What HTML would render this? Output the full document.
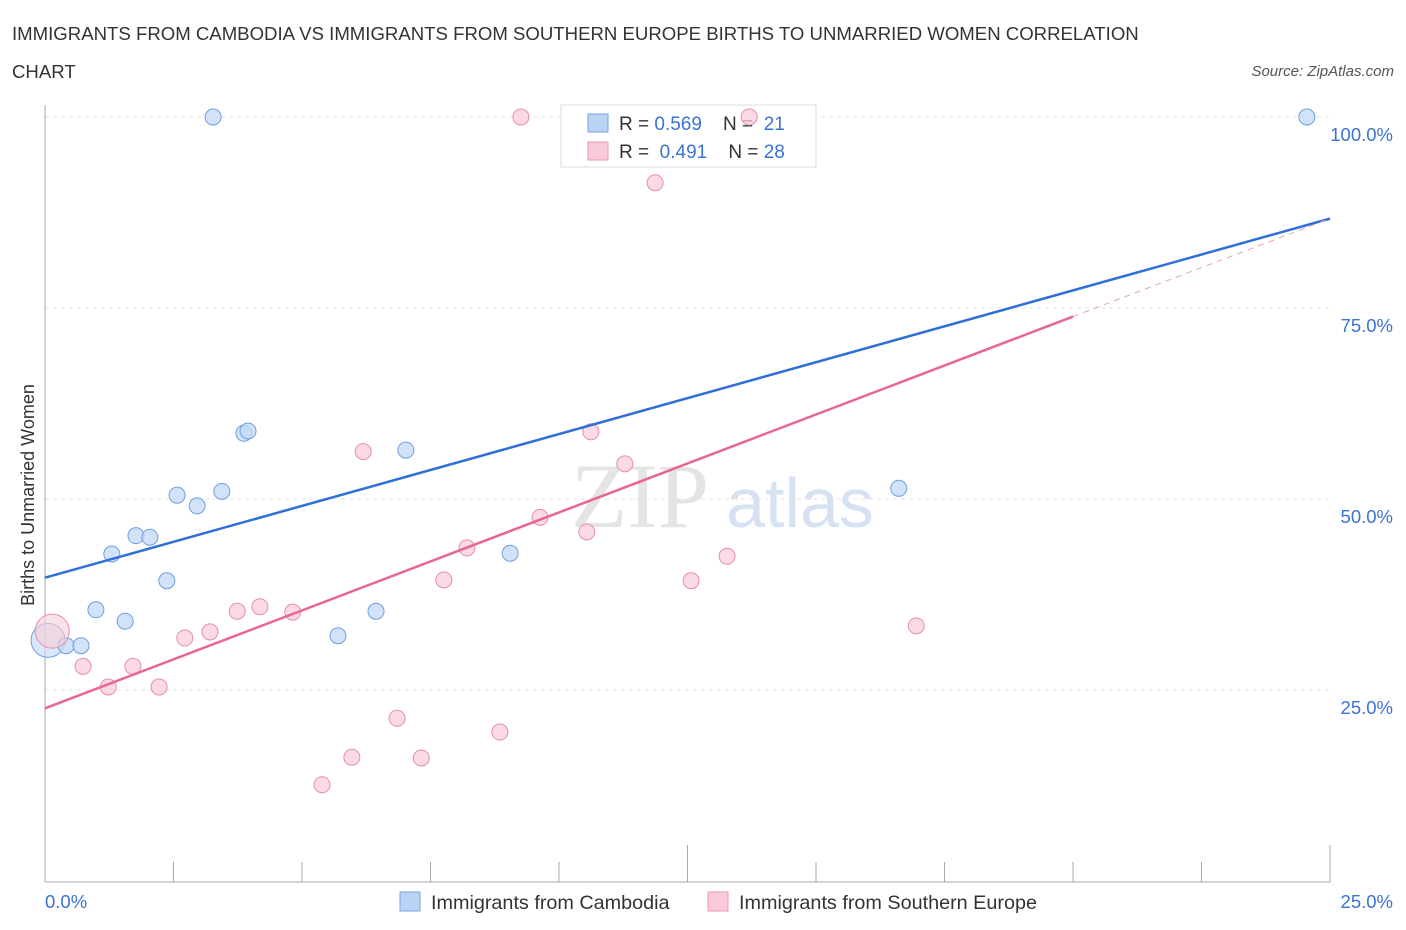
<!DOCTYPE html>
<html><head><meta charset="utf-8"><style>
body{margin:0;background:#fff;font-family:"Liberation Sans",sans-serif;}
#c{position:absolute;left:0;top:0}
text{white-space:pre}
</style></head><body>
<svg id="c" width="1406" height="930" xmlns="http://www.w3.org/2000/svg">
<text x="12" y="40" font-size="18.6" fill="#333">IMMIGRANTS FROM CAMBODIA VS IMMIGRANTS FROM SOUTHERN EUROPE BIRTHS TO UNMARRIED WOMEN CORRELATION</text>
<text x="12" y="78" font-size="18.6" fill="#333">CHART</text>
<text x="1394" y="76" font-size="15" fill="#555" font-style="italic" text-anchor="end">Source: ZipAtlas.com</text>
<text x="640" y="527" font-size="92" fill="#e4e4e4" font-family="Liberation Serif,serif" text-anchor="middle">ZIP</text>
<text x="800" y="527" font-size="70" fill="#d6e2f2" text-anchor="middle">atlas</text>
<text transform="translate(34,495) rotate(-90)" font-size="18" fill="#333" text-anchor="middle">Births to Unmarried Women</text>
<g id="grid"></g>
<g>
<rect x="561" y="105" width="255" height="62" fill="#fff" stroke="#ddd"/>
<rect x="588" y="114" width="20" height="18" fill="#b9d3f5" stroke="#7aa6e0"/>
<text x="619" y="130" font-size="19" fill="#333">R = <tspan fill="#3b72d4">0.569</tspan>    N =  <tspan fill="#3b72d4">21</tspan></text>
<rect x="588" y="142" width="20" height="18" fill="#f8c9d6" stroke="#e99ab2"/>
<text x="619" y="158" font-size="19" fill="#333">R =  <tspan fill="#3b72d4">0.491</tspan>    N = <tspan fill="#3b72d4">28</tspan></text>
</g>
<g id="marks"></g>
<g>
<rect x="400" y="892" width="20" height="19" fill="#b9d3f5" stroke="#7aa6e0"/>
<text x="431" y="909" font-size="19.8" fill="#333">Immigrants from Cambodia</text>
<rect x="708" y="892" width="20" height="19" fill="#f8c9d6" stroke="#e99ab2"/>
<text x="739" y="909" font-size="19.8" fill="#333">Immigrants from Southern Europe</text>
</g>
<text x="45" y="908" font-size="18.5" fill="#3b72d4">0.0%</text>
<text x="1393" y="908" font-size="18.5" fill="#3b72d4" text-anchor="end">25.0%</text>
</svg>
<script>
const yTicks=[25,50,75,100];
const yTickLabels=["25.0%","50.0%","75.0%","100.0%"];
const camX=[3.27,24.55,0.06,0.41,0.70,0.99,1.30,1.56,1.77,2.04,2.37,2.57,2.96,3.44,3.87,3.95,5.70,6.44,7.02,9.05,16.61];
const camY=[100,100,31.5,30.8,30.8,35.5,42.8,34.0,45.2,45.0,39.3,50.5,49.1,51.0,58.6,58.9,32.1,35.3,56.4,42.9,51.4];
const seX=[9.26,13.70,11.87,0.14,0.74,1.23,1.71,2.22,2.72,3.21,3.74,4.18,4.82,5.39,5.97,6.19,6.85,7.32,7.76,8.21,8.85,9.63,10.54,10.62,11.28,12.57,13.27,16.95];
const seY=[100,100,91.4,32.7,28.1,25.4,28.1,25.4,31.8,32.6,35.3,35.9,35.2,12.6,16.2,56.2,21.3,16.1,39.4,43.6,19.5,47.6,45.7,58.8,54.6,39.3,42.5,33.4];
const camTrend=[39.7,86.7];
const seTrend=[22.6,86.7];
const seSolidEnd=20;
const NS="http://www.w3.org/2000/svg";
const X=v=>45+v*51.4, Y=v=>881-v*7.64;
function mk(t,a,p){const e=document.createElementNS(NS,t);for(const k in a)e.setAttribute(k,a[k]);p.appendChild(e);return e;}
const g=document.getElementById('grid'),m=document.getElementById('marks');
yTicks.forEach((t,i)=>{
 const l=mk('line',{x1:45,x2:1330,y1:Y(t),y2:Y(t),stroke:'#e2e2e2','stroke-dasharray':'4,4'},g);
 
 
 const tx=mk('text',{x:1393,y:Y(t)+24,'font-size':18.5,fill:'#3b72d4','text-anchor':'end'},g);
 tx.textContent=yTickLabels[i];
 
 
});
const ax=mk('line',{x1:45,x2:45,y1:105,y2:882,stroke:'#aaa'},g);


const bx=mk('line',{x1:45,x2:1330,y1:882,y2:882,stroke:'#aaa'},g);


for(let i=0;i<=10;i++){const v=i*2.5;const tk=mk('line',{x1:X(v),x2:X(v),y1:(i==5||i==10)?845:862,y2:882,stroke:'#aaa'},g);
 
 }
function pts(xs,ys,fill,stroke,name,bigIdx){xs.forEach((x,i)=>{const c=mk('circle',{cx:X(x),cy:Y(ys[i]),r:i==bigIdx?17:8,fill:fill,'fill-opacity':i==bigIdx?0.6:0.75,stroke:stroke,'stroke-width':1},m);
 
 });}
pts(camX,camY,'#c3d8f5','#6f9fdd','point-cambodia',2);
pts(seX,seY,'#f9cdd9','#e58fab','point-southern-europe',3);
const bl=mk('line',{x1:X(0),y1:Y(camTrend[0]),x2:X(25),y2:Y(camTrend[1]),stroke:'#2f6fd6','stroke-width':2.5},m);


const yEnd=seTrend[0]+(seTrend[1]-seTrend[0])*seSolidEnd/25;
const pl=mk('line',{x1:X(0),y1:Y(seTrend[0]),x2:X(seSolidEnd),y2:Y(yEnd),stroke:'#e8668f','stroke-width':2.5},m);


const pd=mk('line',{x1:X(seSolidEnd),y1:Y(yEnd),x2:X(25),y2:Y(seTrend[1]),stroke:'#e8a0b5','stroke-width':1,'stroke-dasharray':'6,5'},m);


</script>
</body></html>
